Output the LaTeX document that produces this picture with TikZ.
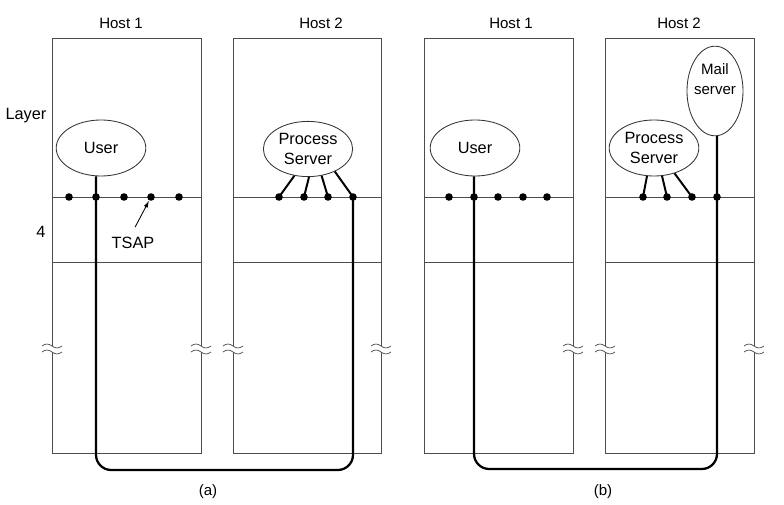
\documentclass[tikz,border=0pt]{standalone}
\usepackage{fontspec}
\setmainfont{Liberation Sans}
\usetikzlibrary{shapes.geometric,arrows.meta}

\begin{document}
\begin{tikzpicture}[x=0.025cm,y=-0.025cm,
	font=\fontsize{11.6}{14.2}\selectfont,
	small/.style={font=\fontsize{10.7}{14.2}\selectfont},
	host/.style={draw=black!70,line width=0.7pt},
	proc/.style={ellipse,draw=black!80,line width=0.6pt,align=center,inner sep=0pt},
	tsap/.style={circle,fill=black,inner sep=0pt,minimum size=0.19cm},
	link/.style={line width=1.4pt},
	route/.style={line width=1.6pt,rounded corners=0.38cm}]
	\useasboundingbox (0,0) rectangle (784,505);
	
	% host boxes
	\foreach \l/\r in {52/201,233/381,424/573,605/754} {
		\draw[host] (\l,38) rectangle (\r,453);
		\draw[host] (\l,197) -- (\r,197);
		\draw[host] (\l,262) -- (\r,262);
	}
	% breaks
	\foreach \x in {52,201,233,381,573,605,754} {
		\fill[white] (\x-2,346) rectangle (\x+2,352);
		\draw[host,line width=0.5pt] (\x-10,346) sin (\x-5,344) cos (\x,346) sin (\x+5,348) cos (\x+10,346);
		\draw[host,line width=0.5pt] (\x-10,352) sin (\x-5,350) cos (\x,352) sin (\x+5,354) cos (\x+10,352);
	}
	
	\node[small] (h1a) at (121,23) {Host 1};
	\node[small] (h2a) at (321,23) {Host 2};
	\node[small] (h1b) at (511,23) {Host 1};
	\node[small] (h2b) at (679,23) {Host 2};
	\node (layer) at (26,116) {Layer};
	\node (four) at (41,232) {4};
	\node[small] (capa) at (208,492) {(a)};
	\node[small] (capb) at (603,492) {(b)};
	
	% (a)
	\foreach \x [count=\i] in {69,96,124,151,179}
		\node[tsap] (ua\i) at (\x,197) {};
	\foreach \x [count=\i] in {279,304,328,353}
		\node[tsap] (pa\i) at (\x,197) {};
	\node[proc,minimum width=2.24cm,minimum height=1.4cm] (usera) at (101,148) {User};
	\node[proc,minimum width=2.23cm,minimum height=1.38cm] (psa) at (308,149) {Process\\Server};
	\draw[link] (psa.-117) -- (pa1.center);
	\draw[link] (psa.-88) -- (pa2.center);
	\draw[link] (psa.-63) -- (pa3.center);
	\draw[link] (psa.-40) -- (pa4.center);
	\coordinate (bota) at (96,470);
	\draw[route] (ua2 |- usera.south) -- (ua2 |- bota) -- (pa4 |- bota) -- (pa4.center);
	
	\node (tsapl) at (133,243) {TSAP};
	\draw[-{Latex[length=5pt,width=3pt]},line width=0.6pt] (tsapl.north) ++(2,-5) -- (ua4);
	
	% (b)
	\foreach \x [count=\i] in {449,474,498,523,547}
		\node[tsap] (ub\i) at (\x,197) {};
	\foreach \x [count=\i] in {643,667,692,717}
		\node[tsap] (pb\i) at (\x,197) {};
	\node[proc,minimum width=2.24cm,minimum height=1.4cm] (userb) at (475,148) {User};
	\node[proc,minimum width=2.24cm,minimum height=1.4cm] (psb) at (654,148) {Process\\Server};
	\node[proc,minimum width=1.4cm,minimum height=2.24cm,
		label={[small,align=center,yshift=0.3cm]center:Mail\\server}] (mail) at (715,91) {};
	\draw[link] (psb.-104) -- (pb1.center);
	\draw[link] (psb.-74) -- (pb2.center);
	\draw[link] (psb.-51) -- (pb3.center);
	\coordinate (botb) at (474,469);
	\draw[route] (ub2 |- userb.south) -- (ub2 |- botb) -- (pb4 |- botb) -- (pb4 |- mail.south);
\end{tikzpicture}
\end{document}
